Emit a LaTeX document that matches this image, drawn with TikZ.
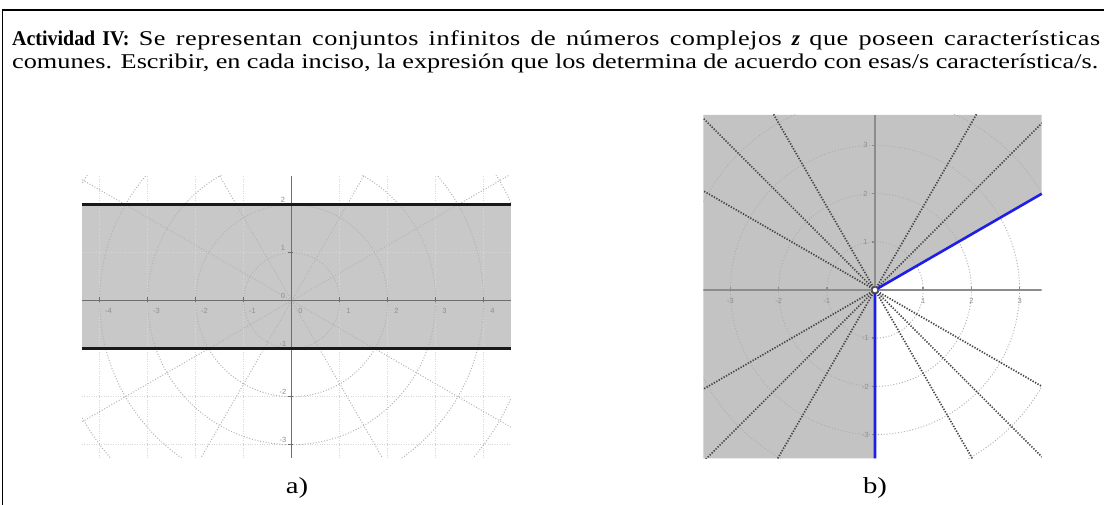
\documentclass[tikz,border=0pt]{standalone}
\usepackage{fontspec}
\setmainfont{Liberation Serif}[FakeStretch=1.25, BoldFeatures={FakeStretch=0.95}, BoldItalicFeatures={FakeStretch=1.0}]
\newfontfamily\lblfont{Liberation Sans}
\definecolor{bandA}{HTML}{C8C8C8}
\definecolor{bandB}{HTML}{C3C3C3}
\definecolor{gridA}{HTML}{D6D6D6}
\definecolor{polarA}{HTML}{B3B3B3}
\definecolor{axisA}{HTML}{6E6E6E}
\definecolor{axisB}{HTML}{8C8C8C}
\definecolor{rayB}{HTML}{454545}
\definecolor{polarB}{HTML}{ADADAD}
\definecolor{lblgray}{HTML}{8E8E8E}
\definecolor{rayblue}{HTML}{1E1EE6}
\begin{document}
\begin{tikzpicture}[x=1pt,y=-1pt,
  frameline/.style={draw=black, line width=1.6pt},
  titletext/.style={anchor=base west, inner sep=0pt, font=\fontsize{21}{23}\selectfont},
  caption/.style={anchor=base, inner sep=0pt, font=\fontsize{23}{25}\selectfont},
  gridline/.style={draw=gridA, line width=0.8pt, dash pattern=on 0.8pt off 1.6pt},
  polarlineA/.style={draw=polarA, line width=1pt, dash pattern=on 1pt off 1.8pt},
  axislineA/.style={draw=axisA, line width=1pt},
  bandline/.style={draw=black!90, line width=3pt},
  polarlineB/.style={draw=polarB, line width=0.9pt, dash pattern=on 1pt off 1.9pt},
  raylineB/.style={draw=rayB, line width=1.7pt, dash pattern=on 1.3pt off 1.5pt},
  axislineB/.style={draw=axisB, line width=1.5pt},
  blueline/.style={draw=rayblue, line width=2.6pt},
  ticklbl/.style={inner sep=0pt, text=lblgray, font=\lblfont\fontsize{7.5}{8}\selectfont},
  opendot/.style={circle, draw=black!70, fill=white, line width=1pt, inner sep=0pt, minimum size=6pt}]
\useasboundingbox (0,0) rectangle (1104,505);
% frame
\draw[frameline] (2.5,505) -- (2.5,10) -- (1104,10);
% title
\node[titletext] (title1) at (12,46) {\makebox[1088pt][s]{\textbf{Actividad IV:} {\addfontfeature{LetterSpace=2.5}Se representan conjuntos infinitos de números complejos} \textbf{\textit{z}} {\addfontfeature{LetterSpace=2.5}que poseen características}}};
\node[titletext] (title2) at (12,69) {\makebox[1086pt][s]{comunes. Escribir, en cada inciso, la expresión que los determina de acuerdo con esas/s característica/s.}};
% captions
\node[caption] (capa) at (297,493) {a)};
\node[caption] (capb) at (875,493) {b)};

% ---------------- panel a ----------------
\begin{scope}[shift={(291.7pt,-300.7pt)}, x=48pt, y=48pt]
  \def\xl{-4.369}\def\xr{4.569}\def\yb{-3.277}\def\yt{2.598}
  \begin{scope}
    \clip (\xl,\yb) rectangle (\xr,\yt);
    \fill[bandA] (\xl,-1) rectangle (\xr,2);
    \foreach \i in {-4,...,4} \draw[gridline] (\i,\yb) -- (\i,\yt);
    \foreach \j in {-3,...,2} \draw[gridline] (\xl,\j) -- (\xr,\j);
    \foreach \r in {1,...,5} \draw[polarlineA] (0,0) circle[radius=\r];
    \foreach \a in {30,60,120,150,210,240,300,330} \draw[polarlineA] (0,0) -- (\a:6.5);
  \end{scope}
  \draw[axislineA] (\xl,0) -- (\xr,0);
  \draw[axislineA] (0,\yb) -- (0,\yt);
  \foreach \i in {-4,...,4} \draw[axislineA] (\i,-0.02) -- (\i,0.07);
  \foreach \j in {-3,...,2} \draw[axislineA] (-0.07,\j) -- (0.02,\j);
  \foreach \i [count=\k] in {-4,-3,-2,-1,0,1,2,3,4}
    \node[ticklbl] (ax\k) at (\i+0.18,-0.21) {\i};
  \foreach \j [count=\k] in {-3,-2,-1,0,1,2}
    \node[ticklbl] (ay\k) at (-0.18,\j+0.1) {\j};
  \draw[bandline] (\xl,2) -- (\xr,2);
  \draw[bandline] (\xl,-1) -- (\xr,-1);
\end{scope}

% ---------------- panel b ----------------
\begin{scope}[shift={(875pt,-290pt)}, x=48.2pt, y=48.2pt]
  \def\xl{-3.562}\def\xr{3.458}\def\yb{-3.492}\def\yt{3.631}
  \begin{scope}
    \clip (\xl,\yb) rectangle (\xr,\yt);
    \fill[bandB] (0,0) -- (\xr,1.9965) -- (\xr,\yt) -- (\xl,\yt) -- (\xl,\yb) -- (0,\yb) -- cycle;
    \foreach \r in {1,...,4} \draw[polarlineB] (0,0) circle[radius=\r];
    \foreach \a in {45,60,120,135,150,210,225,240,300,315,330} \draw[raylineB] (0,0) -- (\a:6.5);
    \draw[axislineB] (\xl,0) -- (\xr,0);
    \draw[axislineB] (0,\yb) -- (0,\yt);
  \end{scope}
  \foreach \i in {-3,-2,-1,1,2,3} \draw[axislineB] (\i,-0.02) -- (\i,0.07);
  \foreach \j in {-3,-2,-1,1,2,3} \draw[axislineB] (-0.07,\j) -- (0.02,\j);
  \foreach \i [count=\k] in {-3,-2,-1,1,2,3}
    \node[ticklbl] (bx\k) at (\i,-0.22) {\i};
  \foreach \j [count=\k] in {-3,-2,-1,1,2,3}
    \node[ticklbl] (by\k) at (-0.2,\j) {\j};
  \node[ticklbl] (b0) at (0.14,-0.17) {0};
  \coordinate (bbottom) at (0,\yb);
  \coordinate (bright) at (\xr,1.9965);
  \node[opendot] (borig) at (0,0) {};
  \draw[blueline] (bbottom) -- (borig.center) -- (bright);
  \node[opendot] (borig2) at (0,0) {};
\end{scope}
\end{tikzpicture}
\end{document}
